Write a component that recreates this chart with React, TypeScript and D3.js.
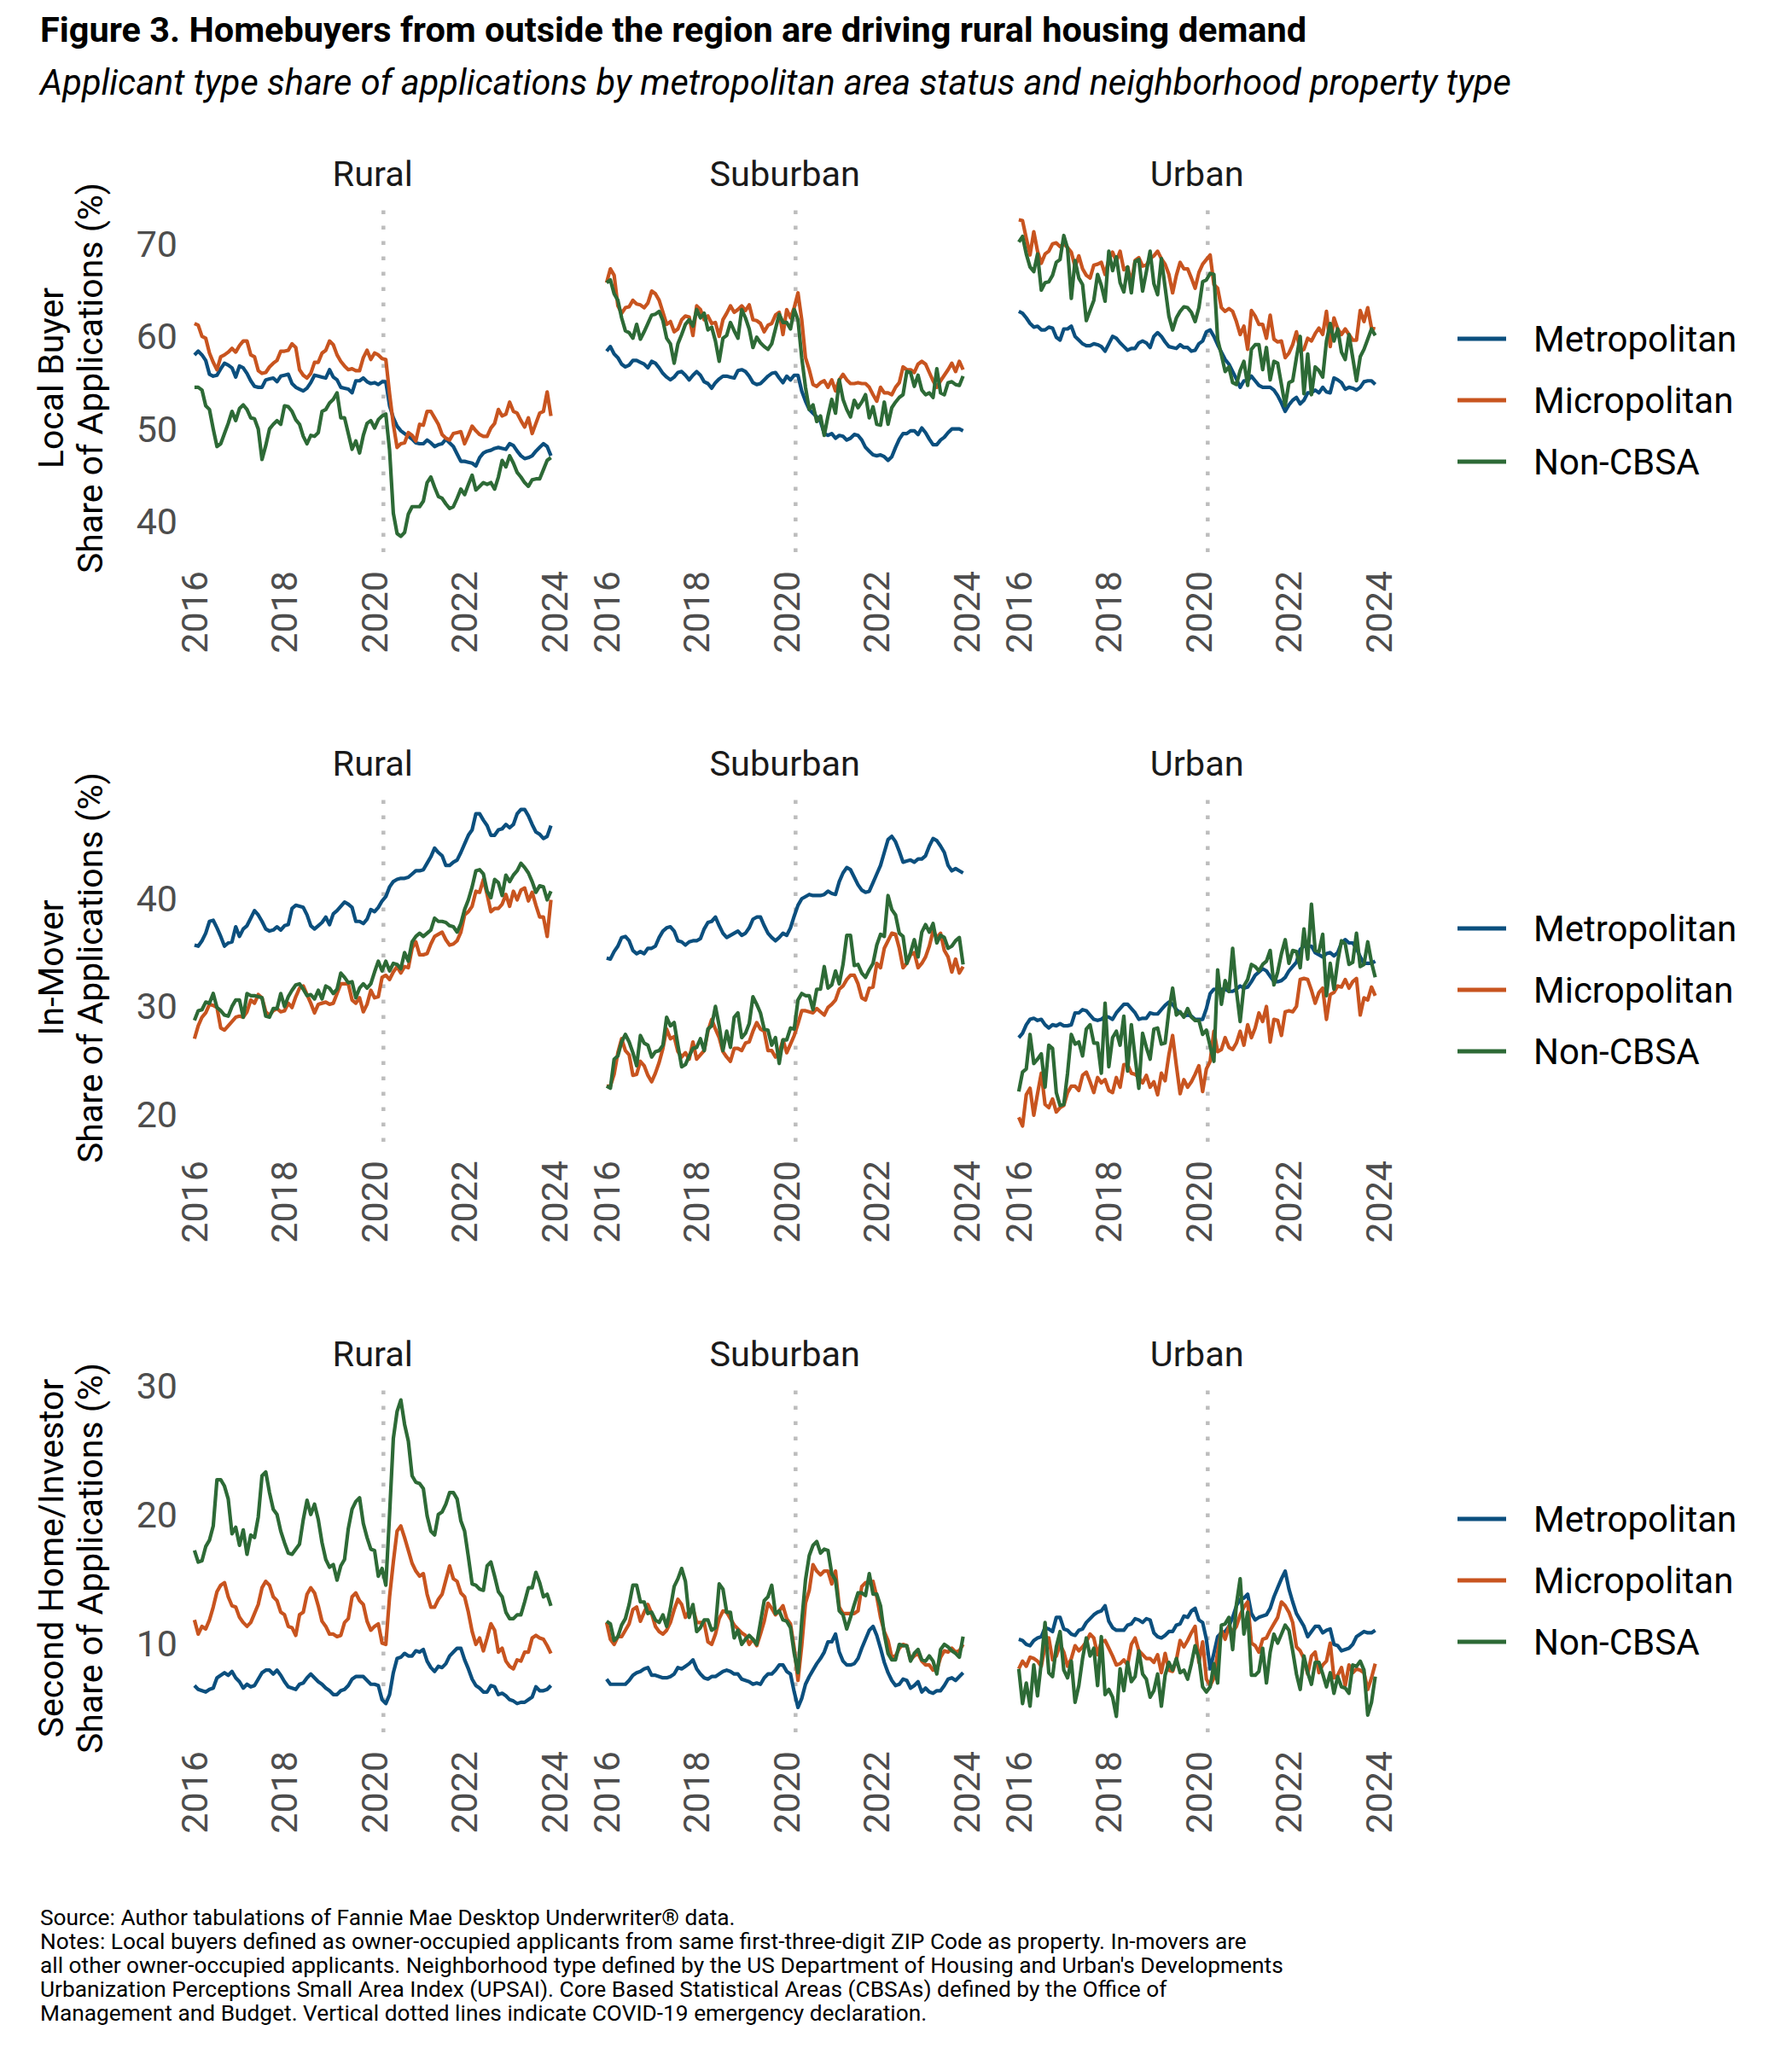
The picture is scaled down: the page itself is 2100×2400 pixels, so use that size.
import React from "react";
import * as d3 from "d3";

// monthly observations, Jan 2016 - Dec 2023 (decimal years)
const months = d3.range(96).map((i) => 2016 + i / 12);

// ---- Local buyer share (%) ----
const localRuralMetro = [58.0,58.4,58.0,57.4,55.9,55.7,55.8,56.5,57.1,56.9,56.6,55.6,56.8,56.6,56.0,55.2,54.6,54.5,54.5,55.3,55.4,55.5,55.1,55.7,55.8,55.9,54.9,54.5,54.3,54.1,54.4,55.0,55.8,55.7,55.6,55.5,56.4,55.6,55.3,54.5,54.4,54.3,53.9,55.2,55.2,55.5,55.1,54.9,55.0,54.8,55.1,55.1,52.5,51.2,50.3,49.8,49.5,49.2,48.9,48.5,48.4,48.4,48.8,48.5,48.1,48.3,48.4,48.9,48.5,48.1,47.3,46.5,46.5,46.4,46.3,46.0,46.9,47.4,47.6,47.7,47.9,48.0,47.9,47.8,48.4,48.2,47.6,47.1,46.8,46.9,47.1,47.6,48.0,48.4,48.1,47.1];
const localRuralMicro = [61.4,61.2,60.0,59.8,58.2,57.2,56.4,57.8,58.0,58.3,58.7,58.3,59.0,59.5,59.5,58.0,57.8,56.3,56.0,56.1,56.7,57.1,57.4,58.4,58.4,58.5,59.2,58.8,56.4,55.8,55.5,56.0,57.2,57.2,58.2,58.5,59.5,59.1,58.0,57.3,56.8,56.4,56.5,56.3,56.3,57.7,58.5,57.5,58.2,58.0,57.6,57.5,53.8,50.5,48.0,48.4,48.5,49.6,49.3,48.7,50.5,50.4,51.9,51.9,51.2,50.5,49.4,49.0,48.8,49.5,49.6,49.7,48.4,49.3,50.3,49.8,49.4,49.2,49.2,50.1,50.6,52.1,51.4,51.6,52.9,51.9,51.7,50.9,50.2,51.2,49.5,50.6,51.7,51.9,54.0,51.4];
const localRuralNon = [54.5,54.5,54.2,52.5,52.1,50.0,48.1,48.4,49.5,50.6,51.9,50.9,52.2,52.6,52.1,51.2,51.1,50.0,46.7,48.2,50.0,50.5,50.9,50.5,52.5,52.4,51.9,51.0,50.5,49.2,48.4,49.3,49.2,49.6,51.9,52.1,52.8,53.2,53.9,51.2,51.2,49.5,47.8,48.7,47.4,49.3,50.6,50.9,50.1,51.0,51.4,51.6,47.7,40.9,38.7,38.4,38.8,40.8,41.6,41.6,41.6,42.2,44.2,44.8,43.7,42.7,42.5,41.9,41.4,41.6,42.5,43.5,42.9,44.0,45.0,43.4,43.8,44.2,44.0,44.2,43.5,44.8,46.6,45.9,47.1,46.3,45.3,44.8,44.2,43.8,44.5,44.6,44.6,45.6,46.6,46.9];
const localSuburbanMetro = [58.4,58.9,58.1,57.7,57.0,56.7,56.9,57.4,57.4,57.2,57.0,56.6,57.3,57.1,56.6,56.0,55.6,55.3,55.6,56.1,56.2,55.8,55.3,55.8,56.2,55.8,55.1,54.9,54.4,55.0,55.4,55.7,55.7,55.6,55.5,56.3,56.4,56.2,55.7,55.0,54.8,54.9,55.3,55.7,56.0,56.1,55.5,55.0,55.7,55.3,55.8,55.8,54.1,53.0,52.1,51.7,51.3,50.8,49.5,49.3,49.5,49.0,49.3,49.2,48.8,49.0,49.4,49.3,48.8,48.0,47.6,47.2,47.1,47.2,47.0,46.6,47.0,48.0,48.9,49.5,49.5,49.8,49.8,49.4,50.1,49.6,48.9,48.3,48.3,48.8,49.1,49.6,50.0,50.0,50.0,49.8];
const localSuburbanMicro = [65.8,67.3,66.6,63.3,62.5,63.1,63.2,63.9,63.5,63.4,63.1,63.6,64.9,64.6,63.9,62.6,61.3,61.6,60.5,60.8,61.8,62.2,62.1,60.1,63.3,62.9,61.8,62.2,61.4,61.5,60.0,61.8,62.5,63.3,62.6,62.9,63.3,62.8,63.4,61.8,61.7,61.4,60.5,61.2,61.4,62.3,62.6,60.2,62.9,62.0,63.1,64.7,61.8,57.7,56.4,54.8,54.6,55.0,55.2,54.5,55.3,54.1,55.3,55.9,55.3,54.9,54.9,55.0,54.9,54.9,54.5,53.7,53.0,54.5,53.9,53.9,53.7,54.5,55.0,56.7,56.4,56.4,56.1,57.0,57.3,57.0,56.1,55.2,54.5,55.2,55.8,56.4,57.1,56.2,57.3,56.4];
const localSuburbanNon = [65.8,66.1,64.6,63.9,62.0,60.6,60.4,59.8,61.3,59.7,60.5,61.4,62.3,62.4,62.7,61.7,59.8,59.2,57.1,59.2,60.2,61.3,61.8,61.1,62.9,62.0,62.5,60.7,61.0,59.5,57.3,59.8,60.1,61.5,60.6,59.8,62.9,62.0,60.8,58.8,59.9,59.3,58.9,58.6,59.2,60.8,62.4,61.5,61.5,60.8,62.9,61.8,57.7,54.5,52.1,52.6,50.8,51.4,49.3,51.4,53.2,51.7,55.3,53.2,52.1,51.3,53.1,52.3,52.9,53.7,51.2,52.4,50.5,50.4,52.9,50.5,52.3,52.9,53.4,53.7,56.2,56.1,54.6,55.8,54.2,53.7,53.9,53.4,56.5,53.9,53.7,55.0,55.1,54.8,54.7,55.7];
const localUrbanMetro = [62.7,62.5,62.0,61.4,61.0,61.1,60.7,60.7,61.0,60.9,59.9,59.6,60.8,60.8,61.1,60.0,59.6,59.2,59.0,59.0,59.2,59.1,58.9,58.4,59.2,60.0,59.8,59.3,58.9,58.5,58.7,58.7,59.3,59.5,59.3,58.8,60.0,60.4,60.0,59.4,58.9,58.8,58.7,59.1,58.8,58.8,58.4,58.5,59.2,59.5,60.5,60.7,60.0,59.1,58.3,57.5,57.0,56.2,55.4,54.5,55.2,55.2,55.7,55.2,54.7,54.5,54.5,54.5,54.2,53.6,52.8,51.9,52.6,53.1,53.4,52.7,53.1,53.9,53.9,54.2,53.9,54.5,54.0,53.9,55.5,55.3,55.0,54.3,54.5,54.4,54.2,54.5,55.1,55.2,55.2,54.8];
const localUrbanMicro = [72.6,72.5,70.6,68.8,71.3,69.2,67.9,68.9,69.2,70.0,70.1,69.7,70.0,69.6,69.1,67.5,68.7,67.3,66.6,66.3,67.7,67.8,68.0,66.7,68.3,69.1,68.1,69.2,67.2,67.5,65.8,68.2,68.5,67.6,67.7,68.4,68.7,69.2,68.4,67.8,66.7,64.7,66.6,68.0,67.3,67.3,66.3,65.2,66.9,67.8,68.3,68.8,65.6,65.2,63.1,62.7,63.0,62.7,61.6,60.2,61.1,58.6,62.8,62.2,61.3,61.3,59.8,62.3,59.7,59.4,59.5,57.7,58.2,59.1,60.5,58.4,58.6,59.8,59.5,60.3,60.9,60.2,62.7,58.9,62.0,60.8,60.2,60.8,60.2,59.6,59.6,62.8,61.6,63.1,60.9,60.8];
const localUrbanNon = [70.2,70.8,68.9,67.5,67.0,68.9,65.0,65.8,65.9,66.6,68.0,68.3,70.9,69.5,64.1,68.2,66.3,65.6,61.7,62.8,63.9,66.7,65.5,63.8,69.2,67.1,68.6,65.8,64.8,67.5,64.7,68.1,68.3,64.9,67.0,69.2,65.7,64.5,68.4,65.3,62.2,60.7,62.0,62.7,63.2,63.1,62.6,61.6,63.1,65.9,66.1,66.8,66.7,59.7,58.0,56.2,56.7,55.0,54.8,56.3,57.3,54.7,58.6,59.1,59.1,56.4,58.8,55.3,57.3,57.1,54.8,52.5,55.0,55.2,57.7,60.0,53.8,58.1,53.7,56.7,56.3,55.6,59.5,61.4,59.5,60.8,58.3,57.5,60.2,57.7,55.2,57.8,58.6,59.7,60.8,60.1];

// ---- In-mover share (%) ----
const moverRuralMetro = [35.7,35.6,36.1,36.8,37.9,38.0,37.3,36.5,35.6,35.9,36.0,37.4,36.5,37.2,37.5,38.2,38.9,38.5,37.9,37.2,37.0,37.1,37.4,37.1,37.5,37.6,39.1,39.4,39.3,39.2,38.5,37.5,37.2,37.5,37.8,38.3,37.6,38.6,38.9,39.3,39.7,39.5,39.2,37.9,37.9,37.7,38.1,39.0,38.8,39.2,39.8,40.2,41.1,41.6,41.8,41.9,41.9,42.0,42.3,42.6,42.6,42.7,43.3,43.9,44.7,44.3,44.0,43.1,43.1,43.4,43.6,44.3,45.1,45.9,46.4,47.9,47.9,47.3,46.8,45.9,45.9,46.4,46.5,46.9,46.6,46.9,47.9,48.3,48.3,47.7,46.9,46.2,46.0,45.6,45.8,46.8];
const moverRuralMicro = [27.0,28.2,29.0,29.4,30.2,30.1,29.9,28.0,27.8,28.2,28.6,29.0,29.1,29.0,29.5,30.6,30.3,31.1,30.8,29.5,29.2,29.6,29.8,29.5,29.6,30.3,29.9,30.9,31.7,31.9,31.1,30.3,29.4,30.2,30.3,30.4,30.2,30.3,31.2,32.1,32.1,32.1,30.6,30.3,30.8,29.5,30.2,31.5,30.8,30.9,32.7,32.9,32.5,33.2,33.7,33.1,33.7,33.6,35.4,36.0,34.8,34.8,34.9,35.8,36.5,36.7,36.9,36.2,35.7,35.8,36.1,36.9,38.5,38.8,39.3,40.7,40.6,41.8,40.4,38.8,39.1,39.1,39.5,40.4,39.3,40.7,39.9,40.8,41.0,39.8,40.6,39.4,38.3,38.3,36.5,39.9];
const moverRuralNon = [28.7,29.6,29.7,30.4,30.3,31.2,29.9,29.6,29.2,29.1,30.0,30.6,30.6,29.0,31.2,31.0,31.0,30.9,30.8,29.1,29.0,29.8,29.8,31.2,30.0,30.9,31.5,32.0,32.1,31.6,31.0,31.1,30.7,31.5,30.7,31.9,31.7,31.2,31.6,33.1,32.7,32.2,32.3,30.8,31.7,32.1,31.7,32.1,33.2,34.2,33.3,34.2,33.3,34.0,33.9,33.5,35.0,34.2,36.0,36.5,36.8,36.5,36.8,37.1,38.2,37.9,37.9,37.8,37.5,37.4,36.9,37.7,39.0,39.9,41.1,42.6,42.7,42.3,40.7,40.1,41.8,41.5,40.3,42.2,41.6,42.2,42.6,43.3,42.9,42.4,41.6,40.6,41.2,41.1,39.9,40.7];
const moverSuburbanMetro = [34.5,34.4,35.1,35.6,36.4,36.5,36.1,35.2,34.9,35.1,34.9,35.4,35.4,35.6,36.4,37.0,37.3,37.4,37.0,36.1,36.0,35.7,36.0,36.1,36.1,36.3,37.2,37.8,37.9,38.3,37.5,36.8,36.4,36.6,36.8,37.0,36.6,36.8,37.3,38.1,38.3,38.3,37.5,36.8,36.4,36.1,36.4,36.8,36.6,37.3,38.4,39.4,40.0,40.2,40.4,40.3,40.3,40.3,40.4,40.7,40.5,40.4,41.6,42.4,42.9,42.7,42.0,41.3,40.8,40.6,40.7,41.5,42.3,43.1,44.3,45.5,45.8,45.3,44.4,43.4,43.5,43.6,43.4,43.7,43.7,44.0,44.9,45.6,45.4,44.9,44.3,43.1,42.6,42.8,42.6,42.4];
const moverSuburbanMicro = [22.6,22.6,23.7,25.7,27.0,25.9,25.5,23.6,23.7,24.9,24.5,23.6,23.0,23.8,24.8,26.1,27.9,27.0,27.2,25.8,25.3,25.7,25.1,26.7,25.1,25.5,25.9,27.7,28.8,27.9,27.1,25.8,25.3,24.9,26.1,26.1,25.9,26.6,26.7,27.7,28.5,27.9,27.7,25.9,25.9,25.3,25.7,26.9,25.7,26.5,27.3,28.4,29.6,29.6,29.5,29.4,29.8,29.5,29.2,29.9,30.2,30.6,31.6,31.9,32.5,32.9,32.9,32.1,30.8,30.6,31.7,31.8,34.0,33.6,35.4,36.1,36.8,36.7,35.4,33.6,34.0,34.8,35.0,33.6,34.0,34.6,35.6,37.0,36.4,36.8,35.2,34.6,33.2,34.4,33.1,33.7];
const moverSuburbanNon = [22.6,22.4,25.1,25.4,26.7,27.4,26.7,25.7,24.5,27.3,26.6,26.4,25.3,25.8,25.9,26.4,29.0,28.2,28.5,26.4,24.4,24.6,25.4,26.1,26.2,27.0,25.9,27.9,28.2,30.0,28.2,25.9,27.7,26.2,29.0,29.4,27.1,27.5,28.4,30.9,30.2,29.4,27.9,27.8,26.4,27.1,24.7,26.9,26.9,28.0,27.9,30.6,31.2,31.0,31.0,29.7,31.6,31.6,33.7,31.7,32.0,33.3,32.1,33.9,36.6,36.6,33.8,33.9,33.1,32.7,33.4,34.0,35.7,36.7,36.5,40.3,39.0,38.5,36.8,36.5,34.0,35.0,36.2,34.6,36.9,37.6,36.9,37.7,35.9,36.6,36.4,35.4,35.6,36.1,36.4,33.9];
const moverUrbanMetro = [27.1,27.5,28.3,28.8,28.9,28.7,28.8,28.3,28.0,28.3,28.2,28.4,28.2,28.2,28.3,29.4,29.4,29.7,29.6,29.2,28.8,28.7,28.8,29.1,29.0,28.8,29.4,29.8,30.2,30.2,29.8,29.4,28.8,28.9,28.9,29.4,29.3,29.3,29.7,30.1,30.4,30.2,29.7,29.4,29.1,29.2,29.1,28.8,28.8,28.8,29.8,31.2,31.6,31.6,31.6,31.6,31.4,31.4,31.6,31.9,31.7,31.8,32.3,32.9,33.2,33.5,33.3,32.8,32.3,32.3,32.4,32.7,33.3,33.7,34.1,35.3,35.6,35.6,35.6,35.0,34.8,34.6,34.9,35.0,34.7,35.0,35.9,36.2,35.9,35.9,35.4,34.6,34.0,34.0,34.0,34.2];
const moverUrbanMicro = [19.7,18.9,21.8,22.4,19.9,21.9,23.8,20.9,20.6,21.4,20.2,20.6,20.8,22.0,22.6,22.6,22.2,23.6,23.9,23.0,22.0,23.4,22.9,23.2,22.2,22.0,23.4,22.5,24.6,24.6,23.8,23.7,23.4,22.9,23.6,22.5,23.0,21.8,23.8,23.1,25.5,27.3,24.5,21.9,23.2,22.5,23.0,23.7,24.5,22.1,24.2,24.9,27.7,25.8,26.0,27.1,26.2,26.0,26.6,27.7,26.4,28.3,27.1,28.0,29.4,28.6,30.0,26.7,28.8,28.7,27.3,29.5,29.6,29.5,30.0,32.5,32.6,32.5,31.5,30.3,31.3,31.7,28.8,31.1,31.3,31.9,31.8,32.5,31.7,32.3,32.6,29.2,30.8,30.6,31.8,31.0];
const moverUrbanNon = [22.1,23.9,24.2,27.4,24.7,25.1,25.6,22.5,26.4,26.1,22.0,20.8,20.9,23.8,27.4,26.5,26.7,25.4,27.9,28.3,26.6,26.6,23.8,30.3,24.4,27.1,27.7,26.4,29.1,24.0,28.3,25.3,22.4,27.5,26.2,25.1,27.9,28.0,26.5,26.6,29.6,31.7,29.2,29.5,29.0,29.8,29.0,28.7,28.7,27.4,27.8,26.3,24.9,33.4,30.2,32.4,31.4,35.4,31.5,28.6,31.9,32.5,33.9,33.7,33.3,33.9,34.2,35.2,32.0,33.2,34.9,36.2,34.0,35.2,35.1,33.6,37.2,34.4,39.5,35.2,35.1,36.7,31.0,34.0,31.6,34.2,36.1,35.8,33.9,34.1,36.8,33.7,33.9,36.0,34.1,32.7];

// ---- Second home / investor share (%) ----
const secondRuralMetro = [6.7,6.4,6.3,6.2,6.4,6.5,7.3,7.5,7.7,7.5,7.8,7.3,7.0,6.5,6.8,6.6,6.7,7.2,7.7,7.9,7.9,7.6,7.9,7.5,7.0,6.6,6.5,6.4,6.8,6.9,7.3,7.6,7.3,7.0,6.8,6.5,6.3,6.0,6.0,6.3,6.4,6.7,7.2,7.4,7.4,7.4,7.1,6.8,6.8,6.7,5.6,5.3,6.0,7.7,8.8,8.9,9.2,9.0,9.0,9.4,9.3,9.5,8.6,8.1,7.8,8.2,8.1,8.4,9.0,9.3,9.6,9.6,8.7,8.0,7.2,6.7,6.5,6.2,6.2,6.7,6.6,6.0,6.1,5.9,5.6,5.5,5.3,5.4,5.4,5.6,5.8,6.6,6.3,6.3,6.4,6.7];
const secondRuralMicro = [11.8,10.7,11.3,11.1,11.8,12.8,14.0,14.5,14.7,13.6,12.9,12.8,12.0,11.6,11.3,11.6,12.3,13.0,14.3,14.8,14.5,13.6,13.3,12.4,12.2,11.3,11.2,10.6,12.2,12.4,13.8,14.3,13.9,12.9,11.7,11.3,10.7,10.7,10.5,10.6,11.6,11.9,13.6,13.9,13.3,13.0,11.7,11.0,11.3,11.5,10.0,9.9,13.6,16.3,18.7,19.1,18.2,17.2,16.2,15.6,15.2,15.4,13.8,12.8,12.8,13.4,13.8,14.9,16.0,15.0,14.8,13.9,13.6,12.4,10.9,9.9,10.4,9.4,10.4,11.5,11.0,9.3,9.6,8.6,8.2,8.0,8.7,8.6,9.3,9.3,10.4,10.6,10.4,10.3,9.8,9.2];
const secondRuralNon = [17.2,16.3,16.4,17.5,18.0,19.1,22.7,22.7,22.2,21.2,18.5,19.0,17.6,18.8,16.9,18.4,18.2,19.8,23.0,23.3,21.7,20.4,20.0,18.7,17.8,17.0,16.9,17.3,17.7,19.6,21.1,20.0,20.8,19.6,17.8,16.5,15.9,16.1,14.9,16.0,16.5,18.9,20.4,21.0,21.3,19.3,18.2,17.3,17.2,15.2,15.8,14.5,20.0,25.9,28.0,28.9,27.0,25.7,23.0,22.5,22.4,22.0,19.9,18.7,18.4,20.0,20.2,20.8,21.7,21.7,21.2,19.5,18.7,16.7,14.6,14.5,14.2,14.1,16.0,16.3,15.2,14.0,13.6,12.4,11.9,11.9,12.2,12.2,13.2,14.3,14.3,15.5,14.7,13.6,13.8,12.9];
const secondSuburbanMetro = [7.2,6.8,6.8,6.8,6.8,6.8,7.1,7.5,7.7,7.8,8.0,8.1,7.5,7.5,7.4,7.3,7.3,7.4,7.6,8.1,8.0,8.2,8.4,8.7,8.0,7.6,7.3,7.2,7.4,7.4,7.6,7.8,7.9,7.8,7.6,7.6,7.2,7.1,7.0,6.8,6.9,6.8,7.3,7.6,7.6,7.9,8.3,8.3,7.8,7.6,6.2,5.0,5.7,6.8,7.4,7.9,8.4,8.8,9.3,10.1,10.1,10.7,9.3,8.6,8.3,8.3,8.4,8.8,9.6,10.3,11.0,11.3,10.6,9.6,8.5,7.7,7.1,6.7,6.8,7.2,7.1,6.5,6.7,7.0,6.2,6.5,6.2,6.1,6.3,6.3,6.7,7.2,7.3,7.1,7.4,7.7];
const secondSuburbanMicro = [11.6,10.3,9.9,10.5,10.5,11.0,11.5,12.6,12.8,11.7,12.4,13.0,12.3,11.3,10.9,10.7,11.0,11.6,12.6,13.4,13.0,12.0,12.5,12.7,11.6,11.6,11.6,10.1,9.9,10.7,11.9,12.5,12.4,11.9,11.4,11.1,10.8,10.6,9.9,10.3,9.8,10.7,11.7,13.1,12.7,12.2,12.5,12.9,11.9,11.5,9.6,7.1,9.8,13.1,14.1,16.1,15.6,15.3,15.6,15.6,14.6,15.6,12.8,12.3,12.3,12.3,12.3,12.5,14.4,14.7,14.7,14.8,13.6,12.0,10.9,10.2,8.9,9.0,9.6,9.9,9.8,8.7,9.0,9.2,8.6,8.3,8.3,7.9,7.9,8.9,9.4,9.3,9.6,9.3,9.4,9.9];
const secondSuburbanNon = [11.7,11.5,10.2,10.5,11.4,11.9,13.0,14.5,14.5,13.2,13.2,12.3,12.4,11.8,11.6,12.2,11.3,12.7,14.4,15.0,15.8,14.8,12.0,13.0,10.9,11.2,11.8,11.8,11.0,11.2,14.6,14.2,12.4,12.4,10.4,11.0,9.9,10.3,10.6,10.3,9.9,11.6,13.3,13.6,14.5,12.3,12.5,11.8,11.7,11.2,9.2,7.7,11.7,14.9,16.8,17.6,17.9,17.0,17.3,17.2,15.4,14.9,12.5,12.2,11.1,12.0,13.0,13.9,13.9,13.7,15.4,13.8,13.8,12.9,10.7,9.2,8.7,8.7,9.9,9.8,9.8,8.6,9.2,9.5,8.7,8.6,9.0,8.6,7.6,9.5,9.9,9.7,9.4,9.2,8.9,10.5];
const secondUrbanMetro = [10.3,10.2,9.9,9.8,10.2,10.4,10.5,11.2,11.1,10.9,12.0,12.0,11.1,11.0,10.7,10.6,11.0,11.1,11.6,11.9,12.2,12.4,12.5,12.9,11.7,11.2,11.0,11.0,11.0,11.4,11.5,11.9,11.8,11.6,11.9,11.8,10.8,10.5,10.4,10.6,10.9,10.9,11.4,11.5,12.1,12.0,12.5,12.7,11.8,11.6,10.3,8.0,9.2,10.5,10.8,10.9,11.3,12.0,12.9,13.4,13.5,13.8,12.3,11.8,12.0,12.1,12.2,12.7,13.6,14.3,15.0,15.6,14.2,13.2,12.3,11.8,11.3,10.5,10.9,11.3,11.3,10.8,11.0,11.1,9.9,9.8,9.4,9.5,9.6,9.9,10.5,10.7,10.9,10.8,10.8,11.0];
const secondUrbanMicro = [8.0,8.6,8.2,8.9,8.8,8.6,8.2,9.8,10.4,8.7,9.0,9.9,9.3,8.2,8.8,9.8,9.4,9.7,10.1,10.7,10.4,9.1,10.1,10.2,9.6,9.0,8.3,8.4,8.7,8.3,9.9,10.4,9.4,9.1,8.8,8.8,8.5,9.1,7.7,9.2,7.9,7.8,8.7,10.2,9.7,10.2,10.8,11.3,8.5,10.1,7.2,6.7,7.3,9.3,11.0,10.3,11.3,10.9,11.3,12.2,12.8,13.2,10.0,9.8,9.3,10.3,10.4,11.0,11.5,12.0,13.2,12.9,12.4,11.6,9.7,9.4,8.8,7.6,9.0,9.3,7.7,8.3,8.6,10.0,7.3,7.5,8.1,6.7,8.3,7.7,8.0,7.9,7.7,6.4,7.3,8.4];
const secondUrbanNon = [8.0,5.3,6.9,5.1,8.3,5.9,8.5,11.6,7.7,7.4,9.7,10.9,7.9,7.3,8.6,5.4,6.7,8.8,10.4,9.0,9.6,6.7,10.5,6.0,6.4,5.8,4.3,8.0,6.3,8.5,7.0,7.4,9.4,7.6,7.2,5.8,6.3,7.6,5.1,7.5,8.5,7.9,8.8,7.7,7.9,7.2,8.4,9.8,8.8,6.6,6.2,6.6,8.4,6.9,11.4,11.5,12.0,9.5,13.0,15.0,10.7,12.4,7.5,7.5,7.8,9.6,6.9,9.3,10.7,10.0,10.7,11.4,11.0,9.4,7.6,6.4,9.0,7.7,6.8,8.5,8.5,7.6,6.6,7.7,6.1,7.4,6.6,6.5,6.1,8.3,8.2,8.6,7.9,4.4,5.4,7.4];

const rowTitles = ["Local Buyer", "In-Mover", "Second Home/Investor"];
const rowTicks = [[40, 50, 60, 70], [20, 30, 40], [10, 20, 30]];
const facets = ["Rural", "Suburban", "Urban"];
const groups = ["Metropolitan", "Micropolitan", "Non-CBSA"];
const colors = ["#0b4f7e", "#c8541f", "#2d6a36"];
const yearTicks = [2016, 2018, 2020, 2022, 2024];
const covidDate = 2020 + 72 / 366; // 13 March 2020

const rows = [
  [
    [localRuralMetro, localRuralMicro, localRuralNon],
    [localSuburbanMetro, localSuburbanMicro, localSuburbanNon],
    [localUrbanMetro, localUrbanMicro, localUrbanNon],
  ],
  [
    [moverRuralMetro, moverRuralMicro, moverRuralNon],
    [moverSuburbanMetro, moverSuburbanMicro, moverSuburbanNon],
    [moverUrbanMetro, moverUrbanMicro, moverUrbanNon],
  ],
  [
    [secondRuralMetro, secondRuralMicro, secondRuralNon],
    [secondSuburbanMetro, secondSuburbanMicro, secondSuburbanNon],
    [secondUrbanMetro, secondUrbanMicro, secondUrbanNon],
  ],
];

const notes = [
  "Source: Author tabulations of Fannie Mae Desktop Underwriter\u00ae data.",
  "Notes: Local buyers defined as owner-occupied applicants from same first-three-digit ZIP Code as property. In-movers are",
  "all other owner-occupied applicants. Neighborhood type defined by the US Department of Housing and Urban's Developments",
  "Urbanization Perceptions Small Area Index (UPSAI). Core Based Statistical Areas (CBSAs) defined by the Office of",
  "Management and Budget. Vertical dotted lines indicate COVID-19 emergency declaration.",
];

// layout
const W = 2100;
const H = 2400;
const panelLeft = 207;
const panelW = 459.5;
const colStep = 483;
const rowTop = [239, 930, 1622];
const panelH = 408;

// ggplot-style 5% expansion
function expand([lo, hi]: [number, number]): [number, number] {
  const pad = (hi - lo) * 0.05;
  return [lo - pad, hi + pad];
}

const xDomain = expand([months[0], months[months.length - 1]]);

export default function App() {
  return (
    <svg
      width={W}
      height={H}
      style={{ position: "absolute", left: 0, top: 0, background: "#fff" }}
      fontFamily="Roboto, 'Open Sans', sans-serif"
    >
      <rect width={W} height={H} fill="#fff" />
      <text x={47} y={49} fontSize={41.5} fontWeight={700} fill="#000">
        Figure 3. Homebuyers from outside the region are driving rural housing demand
      </text>
      <text x={47} y={111} fontSize={41.5} fontStyle="italic" fill="#000">
        Applicant type share of applications by metropolitan area status and neighborhood property type
      </text>

      {rows.map((panels, r) => {
        const top = rowTop[r];
        const bottom = top + panelH;
        const ext = d3.extent(panels.flat(2)) as [number, number];
        const y = d3.scaleLinear().domain(expand(ext)).range([bottom, top]);
        const midY = (top + bottom) / 2;
        return (
          <g key={r}>
            {/* y axis title */}
            <g transform={`translate(60,${midY}) rotate(-90)`}>
              <text textAnchor="middle" dominantBaseline="central" fontSize={41} fill="#000">
                {rowTitles[r]}
              </text>
            </g>
            <g transform={`translate(106,${midY}) rotate(-90)`}>
              <text textAnchor="middle" dominantBaseline="central" fontSize={41} fill="#000">
                Share of Applications (%)
              </text>
            </g>
            {rowTicks[r].map((t) => (
              <text
                key={t}
                x={208}
                y={y(t)}
                textAnchor="end"
                dominantBaseline="central"
                fontSize={43}
                fill="#4d4d4d"
              >
                {t}
              </text>
            ))}

            {panels.map((series, c) => {
              const x0 = panelLeft + c * colStep;
              const x = d3.scaleLinear().domain(xDomain).range([x0, x0 + panelW]);
              const line = d3
                .line<number>()
                .x((_, i) => x(months[i]))
                .y((d) => y(d));
              return (
                <g key={c}>
                  <text
                    x={x0 + panelW / 2}
                    y={top - 36}
                    textAnchor="middle"
                    dominantBaseline="central"
                    fontSize={41.5}
                    fill="#1a1a1a"
                  >
                    {facets[c]}
                  </text>
                  <path
                    d={`M${x(covidDate)},${bottom}L${x(covidDate)},${top}`}
                    stroke="#bdbdbd"
                    strokeWidth={4.5}
                    strokeDasharray="4.5 13.5"
                    fill="none"
                  />
                  {series.map((s, k) => (
                    <path
                      key={k}
                      d={line(s) ?? ""}
                      fill="none"
                      stroke={colors[k]}
                      strokeWidth={4.2}
                      strokeLinejoin="round"
                    />
                  ))}
                  {yearTicks.map((yr) => (
                    <g key={yr} transform={`translate(${x(yr)},${bottom + 22}) rotate(-90)`}>
                      <text textAnchor="end" dominantBaseline="central" fontSize={43} fill="#4d4d4d">
                        {yr}
                      </text>
                    </g>
                  ))}
                </g>
              );
            })}

            {/* legend */}
            {groups.map((g, k) => {
              const ly = top + 158 + k * 72;
              return (
                <g key={g}>
                  <line x1={1708} x2={1765} y1={ly} y2={ly} stroke={colors[k]} strokeWidth={5} />
                  <text x={1797} y={ly} dominantBaseline="central" fontSize={42} fill="#000">
                    {g}
                  </text>
                </g>
              );
            })}
          </g>
        );
      })}

      {notes.map((n, i) => (
        <text key={i} x={47} y={2256 + i * 28} fontSize={26.3} fill="#000">
          {n}
        </text>
      ))}
    </svg>
  );
}
